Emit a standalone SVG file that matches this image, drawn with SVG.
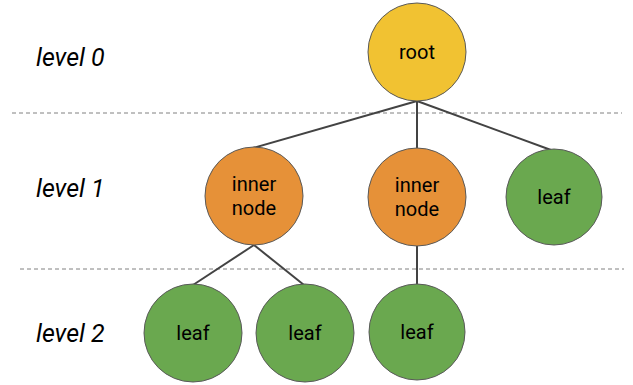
<svg xmlns="http://www.w3.org/2000/svg" width="633" height="385" viewBox="0 0 633 385">
<style>
.n{stroke:#595959;stroke-width:1}
.root{fill:#F1C232}
.inner{fill:#E69138}
.leaf{fill:#6AA84F}
.t{font-family:Roboto,"Liberation Sans",sans-serif;font-size:20px;fill:#000;text-anchor:middle}
.lv{font-family:Roboto,"Liberation Sans",sans-serif;font-size:25px;font-style:italic;fill:#000}
.e{stroke:#434343;stroke-width:2;fill:none}
.d{stroke:#808080;stroke-width:1;stroke-dasharray:4,3}
</style>
<rect width="633" height="385" fill="#fff"/>
<g id="separators">
<line class="d" x1="12" y1="113" x2="622" y2="113"/>
<line class="d" x1="20" y1="269" x2="624" y2="269"/>
</g>
<g id="labels">
<text class="lv" x="36" y="66">level 0</text>
<text class="lv" x="36" y="197">level 1</text>
<text class="lv" x="36" y="342">level 2</text>
</g>
<g id="connectors">
<line class="e" x1="417" y1="101" x2="253" y2="148"/>
<line class="e" x1="417" y1="101" x2="417" y2="148"/>
<line class="e" x1="417" y1="101" x2="551" y2="150"/>
<line class="e" x1="254" y1="245" x2="193" y2="285"/>
<line class="e" x1="254" y1="245" x2="304" y2="285"/>
<line class="e" x1="417" y1="246" x2="417" y2="284"/>
</g>
<g id="root"><circle class="n root" cx="417" cy="52" r="49"/><text class="t" x="417" y="59">root</text></g>
<g id="inner1"><circle class="n inner" cx="254" cy="196" r="49"/><text class="t" x="254" y="191">inner</text><text class="t" x="254" y="215">node</text></g>
<g id="inner2"><circle class="n inner" cx="417" cy="197" r="49"/><text class="t" x="417" y="192">inner</text><text class="t" x="417" y="216">node</text></g>
<g id="leaf1"><circle class="n leaf" cx="554" cy="197" r="48"/><text class="t" x="554" y="204">leaf</text></g>
<g id="leaf2"><circle class="n leaf" cx="193" cy="333" r="49"/><text class="t" x="193" y="340">leaf</text></g>
<g id="leaf3"><circle class="n leaf" cx="305" cy="333" r="49"/><text class="t" x="305" y="340">leaf</text></g>
<g id="leaf4"><circle class="n leaf" cx="417" cy="332" r="48"/><text class="t" x="417" y="339">leaf</text></g>
</svg>
